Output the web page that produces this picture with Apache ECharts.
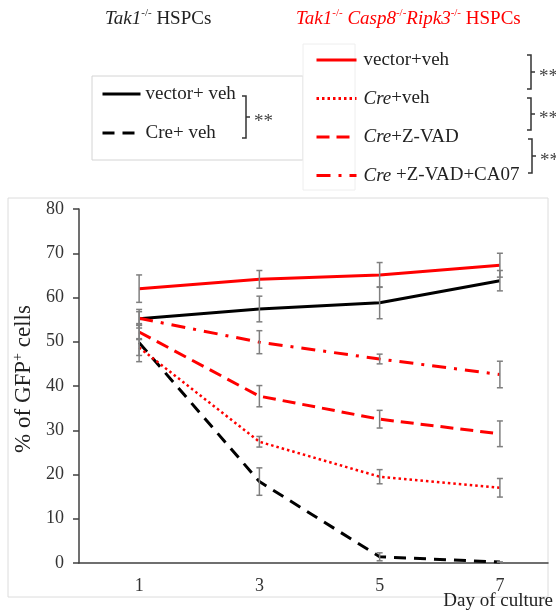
<!DOCTYPE html>
<html>
<head>
<meta charset="utf-8">
<script src="https://cdn.jsdelivr.net/npm/echarts@6/dist/echarts.min.js"></script>
<style>
  html, body { margin: 0; padding: 0; background: #fff; }
  #main { width: 556px; height: 613px; }
</style>
</head>
<body>
<div id="main"></div>
<script>
// days of culture
const days = [1, 3, 5, 7];
const yTicks = [0, 10, 20, 30, 40, 50, 60, 70, 80];

// Tak1-/- HSPCs (black)
const blackVector = [55.2, 57.4, 58.8, 63.8];
const blackVectorErr = [2.1, 2.9, 3.6, 2.3];
const blackCre = [49.8, 18.4, 1.4, 0.2];
const blackCreErr = [4.3, 3.1, 0.9, 0];

// Tak1-/- Casp8-/- Ripk3-/- HSPCs (red)
const redVector = [62.0, 64.1, 65.1, 67.3];
const redVectorErr = [3.1, 2.0, 2.8, 2.7];
const redCre = [48.7, 27.4, 19.5, 17.0];
const redCreErr = [1.8, 1.2, 1.6, 2.1];
const redZvad = [52.2, 37.7, 32.5, 29.2];
const redZvadErr = [1.5, 2.4, 2.0, 2.9];
const redCa07 = [55.3, 49.9, 46.1, 42.6];
const redCa07Err = [1.5, 2.6, 1.1, 3.0];

const FONT = "Liberation Serif";
const RED = "#ff0000";

const lines = [
  { name: "vector+ veh", data: blackVector, err: blackVectorErr, color: "#000", type: "solid", width: 3 },
  { name: "Cre+ veh", data: blackCre, err: blackCreErr, color: "#000", type: [12, 8], width: 3 },
  { name: "vector+veh", data: redVector, err: redVectorErr, color: RED, type: "solid", width: 3 },
  { name: "Cre+veh", data: redCre, err: redCreErr, color: RED, type: [2.5, 3], width: 2.5 },
  { name: "Cre+Z-VAD", data: redZvad, err: redZvadErr, color: RED, type: [13, 7], width: 3 },
  { name: "Cre +Z-VAD+CA07", data: redCa07, err: redCa07Err, color: RED, type: [14, 8, 3, 8], width: 3 }
];

const series = [];
lines.forEach((l) => {
  series.push({
    name: l.name,
    type: "line",
    symbol: "none",
    data: days.map((d, i) => [d, l.data[i]]),
    lineStyle: { color: l.color, width: l.width, type: l.type },
    itemStyle: { color: l.color },
    z: 2
  });
});

// error bars
lines.forEach((l, k) => {
  series.push({
    name: "err" + k,
    type: "custom",
    z: 3,
    silent: true,
    data: days.map((d, i) => [d, l.data[i] - l.err[i], l.data[i] + l.err[i]]),
    renderItem: function (params, api) {
      const lo = api.coord([api.value(0), api.value(1)]);
      const hi = api.coord([api.value(0), api.value(2)]);
      const w = 3;
      const st = { stroke: "#7f7f7f", lineWidth: 1.5 };
      return {
        type: "group",
        children: [
          { type: "line", shape: { x1: lo[0], y1: lo[1], x2: hi[0], y2: hi[1] }, style: st },
          { type: "line", shape: { x1: lo[0] - w, y1: lo[1], x2: lo[0] + w, y2: lo[1] }, style: st },
          { type: "line", shape: { x1: hi[0] - w, y1: hi[1], x2: hi[0] + w, y2: hi[1] }, style: st }
        ]
      };
    }
  });
});

function bracket(x, y1, y2) {
  const ym = (y1 + y2) / 2;
  return [
    {
      type: "polyline",
      shape: { points: [[x - 4, y1], [x, y1], [x, y2], [x - 4, y2]] },
      style: { stroke: "#333", lineWidth: 1.5, fill: null }
    },
    {
      type: "line",
      shape: { x1: x, y1: ym, x2: x + 4, y2: ym },
      style: { stroke: "#333", lineWidth: 1.5 }
    },
    {
      type: "text",
      x: x + 8,
      y: ym + 5,
      style: { text: "**", font: "19px " + FONT, fill: "#444", verticalAlign: "middle" }
    }
  ];
}

const supStyle = { fontSize: 11, fontFamily: FONT, verticalAlign: "top", lineHeight: 22 };

const graphics = [
  // chart frame
  { type: "rect", shape: { x: 8, y: 198, width: 540, height: 399 }, style: { stroke: "#dcdcdc", fill: null, lineWidth: 1 }, z: -1 },
  // legend boxes
  { type: "rect", shape: { x: 92, y: 76, width: 211, height: 84 }, style: { stroke: "#d4d4d4", fill: "#fff", lineWidth: 1 }, z: -1 },
  { type: "rect", shape: { x: 303, y: 44, width: 52, height: 146 }, style: { stroke: "#eeeeee", fill: "#fff", lineWidth: 1 }, z: -1 },
  // x axis title
  {
    type: "text",
    x: 553,
    y: 601,
    style: { text: "Day of culture", font: "19px " + FONT, fill: "#222", align: "right", verticalAlign: "middle" }
  },
  // titles
  {
    type: "text",
    x: 105,
    y: 19,
    style: {
      text: "{i|Tak1}{s|-/-}{n| HSPCs}",
      verticalAlign: "middle",
      rich: {
        i: { fontStyle: "italic", fontSize: 19, fontFamily: FONT, fill: "#222", lineHeight: 22 },
        s: Object.assign({ fill: "#222" }, supStyle),
        n: { fontSize: 19, fontFamily: FONT, fill: "#222", lineHeight: 22 }
      }
    }
  },
  {
    type: "text",
    x: 296,
    y: 19,
    style: {
      text: "{i|Tak1}{s|-/-}{n| }{i|Casp8}{s|-/-}{i|Ripk3}{s|-/-}{n| HSPCs}",
      verticalAlign: "middle",
      rich: {
        i: { fontStyle: "italic", fontSize: 19, fontFamily: FONT, fill: RED, lineHeight: 22 },
        s: Object.assign({ fill: RED }, supStyle),
        n: { fontSize: 19, fontFamily: FONT, fill: RED, lineHeight: 22 }
      }
    }
  }
]
  .concat(bracket(246, 96, 138))
  .concat(bracket(531, 55, 89))
  .concat(bracket(531, 98, 130))
  .concat(bracket(532, 139, 173));

const chart = echarts.init(document.getElementById("main"));

const option = {
  animation: false,
  grid: { left: 79, right: 8, top: 209, bottom: 50, containLabel: false, outerBoundsMode: "none" },
  xAxis: {
    type: "value",
    min: 0,
    max: 7.8,
    interval: 1,
    axisLine: { lineStyle: { color: "#404040", width: 1.5 } },
    axisTick: { show: false },
    splitLine: { show: false },
    axisLabel: {
      fontFamily: FONT,
      fontSize: 18,
      color: "#333",
      margin: 14,
      formatter: (v) => (days.includes(v) ? String(v) : "")
    }
  },
  yAxis: {
    type: "value",
    min: yTicks[0],
    max: yTicks[yTicks.length - 1],
    interval: 10,
    name: "% of GFP{s|+} cells",
    nameLocation: "middle",
    nameGap: 28,
    nameTextStyle: {
      fontFamily: FONT,
      fontSize: 23,
      color: "#222",
      padding: [0, 0, 0, 14],
      rich: {
        s: { fontFamily: FONT, fontSize: 14, color: "#222", verticalAlign: "top", lineHeight: 25 }
      }
    },
    axisLine: { show: true, lineStyle: { color: "#404040", width: 1.5 } },
    axisTick: { show: true, length: 6, lineStyle: { color: "#404040", width: 1.5 } },
    splitLine: { show: false },
    axisLabel: { fontFamily: FONT, fontSize: 18, color: "#333", margin: 15 }
  },
  legend: [
    {
      data: ["vector+ veh", "Cre+ veh"],
      orient: "vertical",
      left: 101,
      top: 84,
      padding: 0,
      itemWidth: 38,
      itemHeight: 14,
      itemGap: 19,
      itemStyle: { opacity: 0 },
      lineStyle: { width: 3, opacity: 1 },
      textStyle: { fontFamily: FONT, fontSize: 19, color: "#222", lineHeight: 20 }
    },
    {
      data: ["vector+veh", "Cre+veh", "Cre+Z-VAD", "Cre +Z-VAD+CA07"],
      orient: "vertical",
      left: 315,
      top: 50,
      padding: 0,
      itemWidth: 40,
      itemHeight: 14,
      itemGap: 18.5,
      itemStyle: { opacity: 0 },
      lineStyle: { width: 3, opacity: 1 },
      formatter: (name) => (name.indexOf("Cre") === 0 ? "{i|Cre}" + name.slice(3) : name),
      textStyle: {
        fontFamily: FONT,
        fontSize: 19,
        color: "#222",
        lineHeight: 20,
        padding: [0, 0, 0, 2],
        rich: {
          i: { fontFamily: FONT, fontSize: 19, fontStyle: "italic", color: "#222", lineHeight: 20 }
        }
      }
    }
  ],
  graphic: graphics,
  series: series
};

chart.setOption(option);
</script>
</body>
</html>
